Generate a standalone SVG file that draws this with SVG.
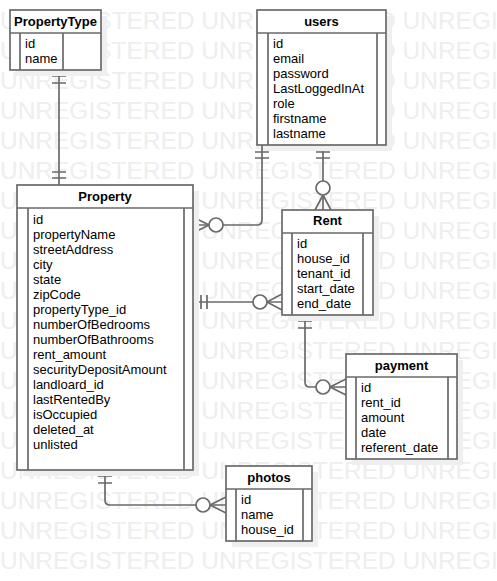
<svg xmlns="http://www.w3.org/2000/svg" width="497" height="581" viewBox="0 0 497 581">
<style>
.wm{font-family:"Liberation Sans",Arial,sans-serif;font-size:23px;fill:#eeeeee}
.shadow{fill:#efefef;stroke:none}
.box{fill:#ffffff;stroke:#6a6a6a;stroke-width:1.7}
.ln{fill:none;stroke:#6a6a6a;stroke-width:1.7}
.hd{font-family:"Liberation Sans",Arial,sans-serif;font-size:13px;font-weight:bold;fill:#000;text-anchor:middle}
.tx{font-family:"Liberation Sans",Arial,sans-serif;font-size:13px;fill:#000}
.cir{fill:#ffffff;stroke:#6a6a6a;stroke-width:1.7}
</style>
<rect x="0" y="0" width="497" height="581" fill="#ffffff"/>
<g id="watermark">
<text class="wm" x="0" y="29" textLength="597" lengthAdjust="spacingAndGlyphs">UNREGISTERED UNREGISTERED UNREGISTERED</text>
<text class="wm" x="0" y="59" textLength="597" lengthAdjust="spacingAndGlyphs">UNREGISTERED UNREGISTERED UNREGISTERED</text>
<text class="wm" x="0" y="89" textLength="597" lengthAdjust="spacingAndGlyphs">UNREGISTERED UNREGISTERED UNREGISTERED</text>
<text class="wm" x="0" y="119" textLength="597" lengthAdjust="spacingAndGlyphs">UNREGISTERED UNREGISTERED UNREGISTERED</text>
<text class="wm" x="0" y="149" textLength="597" lengthAdjust="spacingAndGlyphs">UNREGISTERED UNREGISTERED UNREGISTERED</text>
<text class="wm" x="0" y="179" textLength="597" lengthAdjust="spacingAndGlyphs">UNREGISTERED UNREGISTERED UNREGISTERED</text>
<text class="wm" x="0" y="209" textLength="597" lengthAdjust="spacingAndGlyphs">UNREGISTERED UNREGISTERED UNREGISTERED</text>
<text class="wm" x="0" y="239" textLength="597" lengthAdjust="spacingAndGlyphs">UNREGISTERED UNREGISTERED UNREGISTERED</text>
<text class="wm" x="0" y="269" textLength="597" lengthAdjust="spacingAndGlyphs">UNREGISTERED UNREGISTERED UNREGISTERED</text>
<text class="wm" x="0" y="299" textLength="597" lengthAdjust="spacingAndGlyphs">UNREGISTERED UNREGISTERED UNREGISTERED</text>
<text class="wm" x="0" y="329" textLength="597" lengthAdjust="spacingAndGlyphs">UNREGISTERED UNREGISTERED UNREGISTERED</text>
<text class="wm" x="0" y="359" textLength="597" lengthAdjust="spacingAndGlyphs">UNREGISTERED UNREGISTERED UNREGISTERED</text>
<text class="wm" x="0" y="389" textLength="597" lengthAdjust="spacingAndGlyphs">UNREGISTERED UNREGISTERED UNREGISTERED</text>
<text class="wm" x="0" y="419" textLength="597" lengthAdjust="spacingAndGlyphs">UNREGISTERED UNREGISTERED UNREGISTERED</text>
<text class="wm" x="0" y="449" textLength="597" lengthAdjust="spacingAndGlyphs">UNREGISTERED UNREGISTERED UNREGISTERED</text>
<text class="wm" x="0" y="479" textLength="597" lengthAdjust="spacingAndGlyphs">UNREGISTERED UNREGISTERED UNREGISTERED</text>
<text class="wm" x="0" y="509" textLength="597" lengthAdjust="spacingAndGlyphs">UNREGISTERED UNREGISTERED UNREGISTERED</text>
<text class="wm" x="0" y="539" textLength="597" lengthAdjust="spacingAndGlyphs">UNREGISTERED UNREGISTERED UNREGISTERED</text>
<text class="wm" x="0" y="569" textLength="597" lengthAdjust="spacingAndGlyphs">UNREGISTERED UNREGISTERED UNREGISTERED</text>
</g>
<g id="connectors">
<path class="ln" d="M59,70 V185"/>
<path class="ln" d="M52,76 H66 M52,83 H66 M52,172 H66 M52,178 H66"/>
<path class="ln" d="M262,145 V220 Q262,225 257,225 H193"/>
<path class="ln" d="M255,152 H269 M255,158 H269"/>
<path class="ln" d="M209,225 L193,217 M209,225 L193,233"/>
<circle class="cir" cx="216" cy="225" r="7"/>
<path class="ln" d="M323,145 V210"/>
<path class="ln" d="M316,152 H330 M316,158 H330"/>
<path class="ln" d="M323,195 L315,210 M323,195 L331,210"/>
<circle class="cir" cx="323" cy="188" r="7"/>
<path class="ln" d="M193,302 H282"/>
<path class="ln" d="M201,295 V309 M207,295 V309"/>
<path class="ln" d="M267,302 L282,294 M267,302 L282,310"/>
<circle class="cir" cx="260" cy="302" r="7"/>
<path class="ln" d="M305,315 V382 Q305,387 310,387 H346"/>
<path class="ln" d="M298,321 H312 M298,328 H312"/>
<path class="ln" d="M330,387 L346,379 M330,387 L346,395"/>
<circle class="cir" cx="323" cy="387" r="7"/>
<path class="ln" d="M105,470 V500 Q105,505 110,505 H226"/>
<path class="ln" d="M98,476 H112 M98,483 H112"/>
<path class="ln" d="M210,505 L226,497 M210,505 L226,513"/>
<circle class="cir" cx="203" cy="505" r="7"/>
</g>
<g id="PropertyType">
<rect class="shadow" x="16" y="16" width="91" height="60"/>
<rect class="box" x="10" y="10" width="91" height="60"/>
<path class="ln" d="M10,33 H101 M20,33 V70 M63,33 V70"/>
<text class="hd" x="55.5" y="26">PropertyType</text>
<text class="tx" x="25" y="48">id</text>
<text class="tx" x="25" y="63">name</text>
</g>
<g id="users">
<rect class="shadow" x="263" y="16" width="129" height="135"/>
<rect class="box" x="257" y="10" width="129" height="135"/>
<path class="ln" d="M257,33 H386 M268,33 V145 M377,33 V145"/>
<text class="hd" x="321.5" y="26">users</text>
<text class="tx" x="273" y="48">id</text>
<text class="tx" x="273" y="63">email</text>
<text class="tx" x="273" y="78">password</text>
<text class="tx" x="273" y="93">LastLoggedInAt</text>
<text class="tx" x="273" y="108">role</text>
<text class="tx" x="273" y="123">firstname</text>
<text class="tx" x="273" y="138">lastname</text>
</g>
<g id="Property">
<rect class="shadow" x="23" y="191" width="176" height="285"/>
<rect class="box" x="17" y="185" width="176" height="285"/>
<path class="ln" d="M17,208 H193 M28,208 V470 M184,208 V470"/>
<text class="hd" x="105" y="201">Property</text>
<text class="tx" x="33" y="224">id</text>
<text class="tx" x="33" y="239">propertyName</text>
<text class="tx" x="33" y="254">streetAddress</text>
<text class="tx" x="33" y="269">city</text>
<text class="tx" x="33" y="284">state</text>
<text class="tx" x="33" y="299">zipCode</text>
<text class="tx" x="33" y="314">propertyType_id</text>
<text class="tx" x="33" y="329">numberOfBedrooms</text>
<text class="tx" x="33" y="344">numberOfBathrooms</text>
<text class="tx" x="33" y="359">rent_amount</text>
<text class="tx" x="33" y="374">securityDepositAmount</text>
<text class="tx" x="33" y="389">landloard_id</text>
<text class="tx" x="33" y="404">lastRentedBy</text>
<text class="tx" x="33" y="419">isOccupied</text>
<text class="tx" x="33" y="434">deleted_at</text>
<text class="tx" x="33" y="449">unlisted</text>
</g>
<g id="Rent">
<rect class="shadow" x="288" y="216" width="91" height="105"/>
<rect class="box" x="282" y="210" width="91" height="105"/>
<path class="ln" d="M282,233 H373 M292,233 V315 M363,233 V315"/>
<text class="hd" x="327.5" y="225">Rent</text>
<text class="tx" x="297" y="248">id</text>
<text class="tx" x="297" y="263">house_id</text>
<text class="tx" x="297" y="278">tenant_id</text>
<text class="tx" x="297" y="293">start_date</text>
<text class="tx" x="297" y="308">end_date</text>
</g>
<g id="payment">
<rect class="shadow" x="352" y="360" width="111" height="105"/>
<rect class="box" x="346" y="354" width="111" height="105"/>
<path class="ln" d="M346,377 H457 M356,377 V459 M448,377 V459"/>
<text class="hd" x="401.5" y="370">payment</text>
<text class="tx" x="361" y="392">id</text>
<text class="tx" x="361" y="407">rent_id</text>
<text class="tx" x="361" y="422">amount</text>
<text class="tx" x="361" y="437">date</text>
<text class="tx" x="361" y="452">referent_date</text>
</g>
<g id="photos">
<rect class="shadow" x="232" y="472" width="86" height="75"/>
<rect class="box" x="226" y="466" width="86" height="75"/>
<path class="ln" d="M226,489 H312 M236,489 V541 M303,489 V541"/>
<text class="hd" x="269" y="482">photos</text>
<text class="tx" x="241" y="504">id</text>
<text class="tx" x="241" y="519">name</text>
<text class="tx" x="241" y="534">house_id</text>
</g>
</svg>
